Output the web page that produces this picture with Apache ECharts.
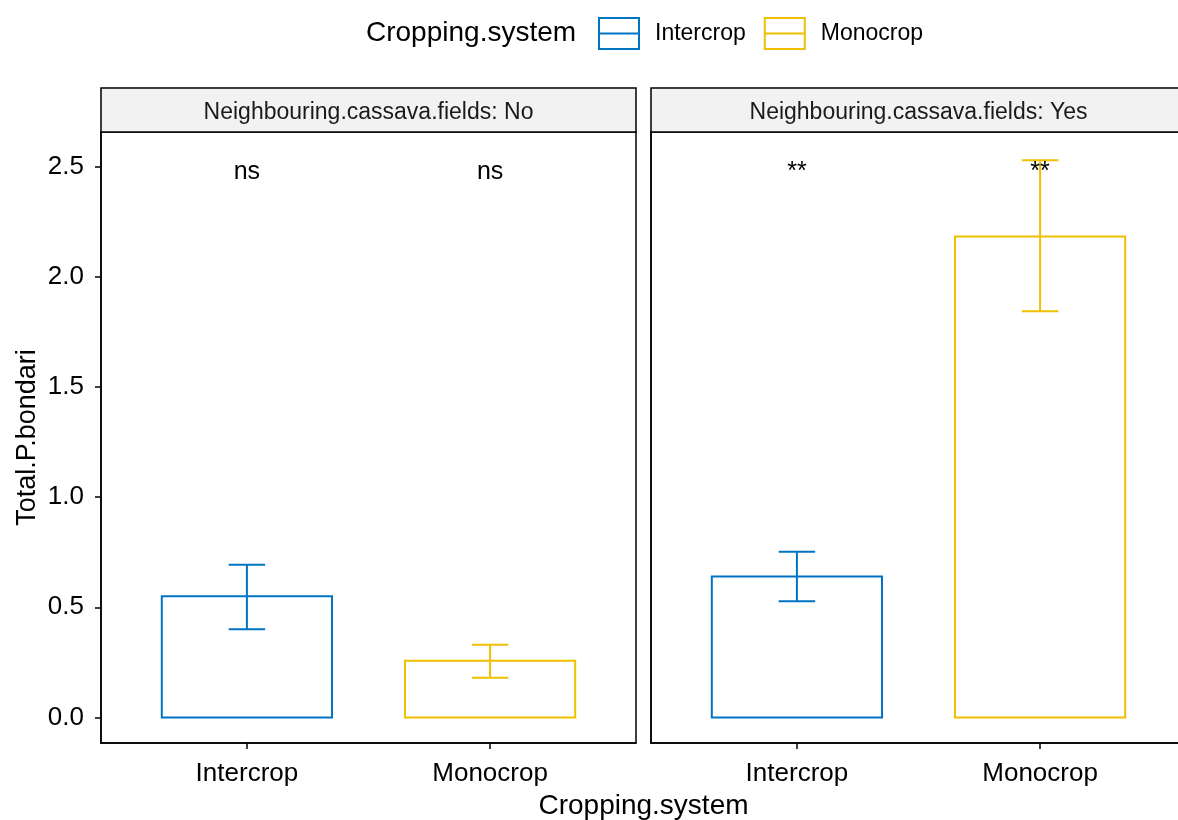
<!DOCTYPE html>
<html>
<head>
<meta charset="utf-8">
<script src="https://cdn.jsdelivr.net/npm/echarts@6/dist/echarts.min.js"></script>
<style>
  html, body { margin: 0; padding: 0; background: #fff; }
  #chart { width: 1178px; height: 820px; }
</style>
</head>
<body>
<div id="chart"></div>
<script>
// Total P. bondari by cropping system, faceted by neighbouring cassava fields
const CROPS = ['Intercrop', 'Monocrop'];
const FACETS = ['No', 'Yes'];
const FACET_PREFIX = 'Neighbouring.cassava.fields: ';

// means and error-bar limits, one entry per crop (Intercrop, Monocrop)
const MEAN_NO = [0.55, 0.257];
const LOWER_NO = [0.40, 0.18];
const UPPER_NO = [0.693, 0.33];

const MEAN_YES = [0.64, 2.183];
const LOWER_YES = [0.527, 1.844];
const UPPER_YES = [0.752, 2.53];

// significance labels per facet, placed at LABEL_Y
const SIGNIF_NO = ['ns', 'ns'];
const SIGNIF_YES = ['**', '**'];
const LABEL_Y = 2.5;

const Y_TICKS = [0, 0.5, 1.0, 1.5, 2.0, 2.5];

const COLORS = { Intercrop: '#0073C2', Monocrop: '#EFC000' };
const FONT = '"Liberation Sans", Arial, Helvetica, sans-serif';

const BAR_HALF = 0.35;
const CAP_HALF = 0.075;

const facetData = {
  No:  { mean: MEAN_NO,  lower: LOWER_NO,  upper: UPPER_NO,  signif: SIGNIF_NO },
  Yes: { mean: MEAN_YES, lower: LOWER_YES, upper: UPPER_YES, signif: SIGNIF_YES }
};

// panel geometry (ggplot-style facets; the second panel runs past the right edge)
const PANEL_TOP = 132;
const PANEL_BOTTOM = 77;   // 820 - 743
const PANEL_W = 535;
const PANEL_LEFT = [101, 651];
const STRIP_H = 44;
const CANVAS_W = 1178;

function renderBar(params, api) {
  const x = api.value(0), m = api.value(1), lo = api.value(2), hi = api.value(3);
  const color = api.visual('color');
  const b0 = api.coord([x - BAR_HALF, 0]);
  const b1 = api.coord([x + BAR_HALF, m]);
  const top = api.coord([x, hi]);
  const bot = api.coord([x, lo]);
  const capL = api.coord([x - CAP_HALF, hi])[0];
  const capR = api.coord([x + CAP_HALF, hi])[0];
  const stroke = { stroke: color, lineWidth: 2, fill: null };
  return {
    type: 'group',
    children: [
      { type: 'rect', shape: { x: b0[0], y: b1[1], width: b1[0] - b0[0], height: b0[1] - b1[1] },
        style: { fill: 'rgba(0,0,0,0)', stroke: color, lineWidth: 2 } },
      { type: 'line', shape: { x1: top[0], y1: top[1], x2: bot[0], y2: bot[1] }, style: stroke },
      { type: 'line', shape: { x1: capL, y1: top[1], x2: capR, y2: top[1] }, style: stroke },
      { type: 'line', shape: { x1: capL, y1: bot[1], x2: capR, y2: bot[1] }, style: stroke }
    ]
  };
}

const labelText = {};

function renderLabel(params, api) {
  const p = api.coord([api.value(0), api.value(1)]);
  const txt = labelText[params.seriesId][params.dataIndex];
  return {
    type: 'text', x: p[0], y: p[1] + 5,
    style: { text: txt, fill: '#000', font: '25px ' + FONT, textAlign: 'center', textVerticalAlign: 'middle' }
  };
}

const grids = [], xAxes = [], yAxes = [], series = [], graphics = [];

FACETS.forEach((facet, fi) => {
  const d = facetData[facet];
  grids.push({
    left: PANEL_LEFT[fi], top: PANEL_TOP, right: CANVAS_W - PANEL_LEFT[fi] - PANEL_W, bottom: PANEL_BOTTOM,
    outerBoundsMode: 'none', containLabel: false,
    show: true, borderColor: '#000', borderWidth: 1.5, backgroundColor: '#fff'
  });
  xAxes.push({
    type: 'value', gridIndex: fi, min: 0.4, max: 2.6,
    splitLine: { show: false },
    axisLine: { show: true, onZero: false, lineStyle: { color: '#000', width: 1.5 } },
    axisTick: { show: true, length: 6, customValues: [1, 2], lineStyle: { color: '#000', width: 1.5 } },
    axisLabel: {
      customValues: [1, 2], margin: 18, color: '#000', fontSize: 26, fontFamily: FONT,
      formatter: v => CROPS[Math.round(v) - 1]
    }
  });
  yAxes.push({
    type: 'value', gridIndex: fi, min: -0.116, max: 2.658,
    splitLine: { show: false },
    axisLine: { show: true, onZero: false, lineStyle: { color: '#000', width: 1.5 } },
    axisTick: { show: fi === 0, length: 6, customValues: Y_TICKS, lineStyle: { color: '#000', width: 1.5 } },
    axisLabel: {
      show: fi === 0, customValues: Y_TICKS, margin: 17, color: '#000', fontSize: 26, fontFamily: FONT,
      formatter: v => v.toFixed(1)
    },
    name: fi === 0 ? 'Total.P.bondari' : '',
    nameLocation: 'middle', nameGap: 60, nameRotate: 90,
    nameTextStyle: { color: '#000', fontSize: 27, fontFamily: FONT }
  });

  CROPS.forEach((crop, ci) => {
    series.push({
      type: 'custom', name: crop, xAxisIndex: fi, yAxisIndex: fi,
      itemStyle: { color: COLORS[crop] },
      renderItem: renderBar, clip: false,
      encode: { x: 0, y: [1, 2, 3] },
      data: [[ci + 1, d.mean[ci], d.lower[ci], d.upper[ci]]]
    });
  });

  const id = 'signif-' + facet;
  labelText[id] = d.signif;
  series.push({
    type: 'custom', id: id, name: 'signif', xAxisIndex: fi, yAxisIndex: fi,
    renderItem: renderLabel, clip: false, silent: true,
    data: CROPS.map((c, ci) => [ci + 1, LABEL_Y])
  });

  // facet strip
  graphics.push({
    type: 'rect', x: PANEL_LEFT[fi], y: PANEL_TOP - STRIP_H,
    shape: { x: 0, y: 0, width: PANEL_W, height: STRIP_H },
    style: { fill: '#f2f2f2', stroke: '#000', lineWidth: 1.5 }, z: 10
  });
  graphics.push({
    type: 'text', x: PANEL_LEFT[fi] + PANEL_W / 2, y: PANEL_TOP - STRIP_H / 2 + 3,
    style: { text: FACET_PREFIX + facet, fill: '#1a1a1a', font: '23px ' + FONT,
             textAlign: 'center', textVerticalAlign: 'middle' }, z: 11
  });
});

// shared x-axis title, centred under both panels
graphics.push({
  type: 'text', x: (PANEL_LEFT[0] + PANEL_LEFT[1] + PANEL_W) / 2, y: 806,
  style: { text: 'Cropping.system', fill: '#000', font: '28px ' + FONT,
           textAlign: 'center', textVerticalAlign: 'middle' }
});
// legend title
graphics.push({
  type: 'text', x: 366, y: 33,
  style: { text: 'Cropping.system', fill: '#000', font: '28px ' + FONT,
           textAlign: 'left', textVerticalAlign: 'middle' }
});

const chart = echarts.init(document.getElementById('chart'), null, { renderer: 'canvas' });
chart.setOption({
  animation: false,
  backgroundColor: '#fff',
  grid: grids,
  xAxis: xAxes,
  yAxis: yAxes,
  legend: {
    data: CROPS.map(c => ({
      name: c,
      icon: 'path://M0,0H40V31H0Z M0,15.5H40',
      itemStyle: { color: 'rgba(0,0,0,0)', borderColor: COLORS[c], borderWidth: 2 }
    })),
    left: 598, top: 17, padding: 0, orient: 'horizontal',
    itemWidth: 40, itemHeight: 31, itemGap: 18,
    textStyle: { color: '#000', fontSize: 23, fontFamily: FONT, padding: [0, 0, 0, 11] },
    selectedMode: false
  },
  series: series,
  graphic: graphics
});
</script>
</body>
</html>
